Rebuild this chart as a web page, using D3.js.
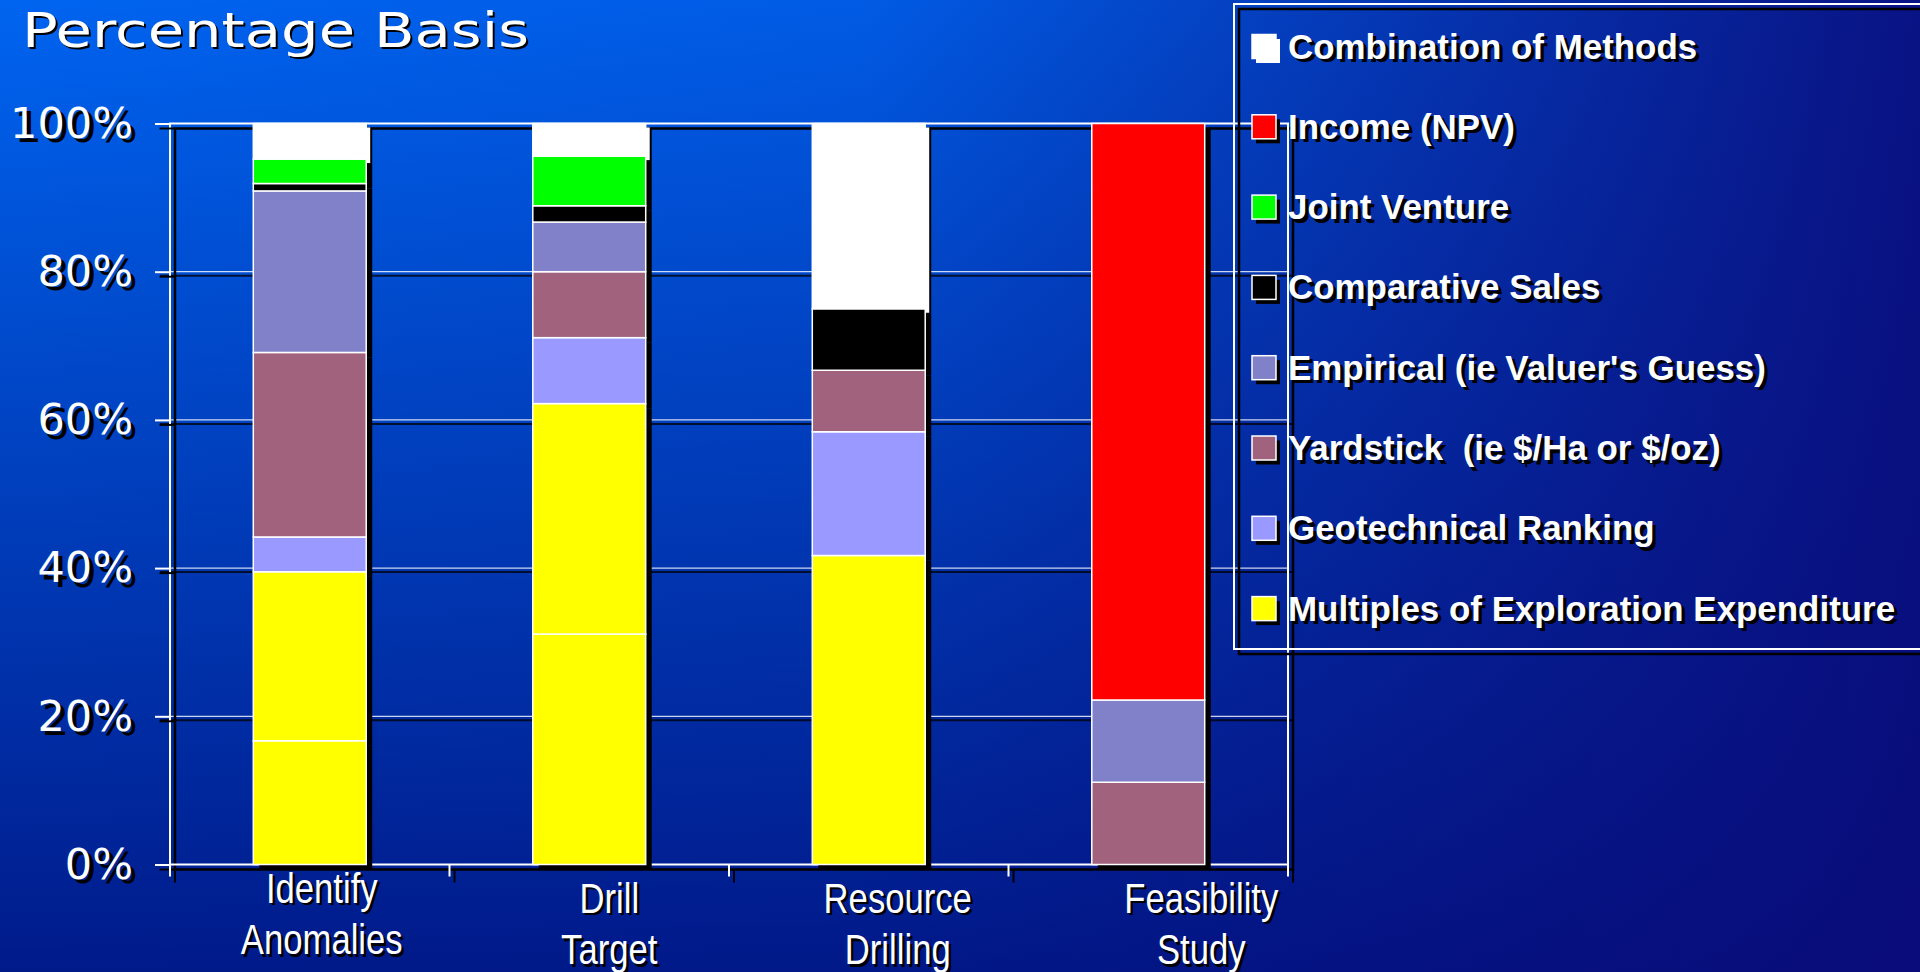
<!DOCTYPE html>
<html>
<head>
<meta charset="utf-8">
<script src="https://cdn.jsdelivr.net/npm/d3@7"></script>
<style>
  html, body { margin: 0; padding: 0; overflow: hidden; background: #0040c0; }
  svg { display: block; }
</style>
</head>
<body>
<svg id="chart" width="1920" height="972"></svg>
<script>
// ---- data -------------------------------------------------------------
const categories = ["Identify Anomalies", "Drill Target", "Resource Drilling", "Feasibility Study"];
const yTicks = [0, 20, 40, 60, 80, 100];

// share of valuations (%) per exploration stage, stacked bottom to top
const multiplesLower   = [16.7, 31.1, 41.7, 0];
const multiplesUpper   = [22.8, 31.1, 0, 0];
const geotechnical     = [4.7, 8.9, 16.7, 0];
const yardstick        = [24.9, 8.9, 8.3, 11.1];
const empirical        = [21.8, 6.7, 0, 11.1];
const comparativeSales = [1.0, 2.2, 8.3, 0];
const jointVenture     = [3.3, 6.7, 0, 0];
const income           = [0, 0, 0, 77.8];
const combination      = [4.8, 4.4, 25.0, 0];

const seriesKeys   = ["multiplesLower", "multiplesUpper", "geotechnical", "yardstick", "empirical",
                      "comparativeSales", "jointVenture", "income", "combination"];
const seriesValues = [multiplesLower, multiplesUpper, geotechnical, yardstick, empirical,
                      comparativeSales, jointVenture, income, combination];
const seriesColors = ["#FFFF00", "#FFFF00", "#9999FF", "#A0627D", "#8181C9",
                      "#000000", "#00FF00", "#FF0000", "#FFFFFF"];

// legend, top to bottom
const legendLabels = ["Combination of Methods", "Income (NPV)", "Joint Venture", "Comparative Sales",
                      "Empirical (ie Valuer's Guess)", "Yardstick  (ie $/Ha or $/oz)",
                      "Geotechnical Ranking", "Multiples of Exploration Expenditure"];
const legendColors = ["#FFFFFF", "#FF0000", "#00FF00", "#000000", "#8181C9", "#A0627D", "#9999FF", "#FFFF00"];

// ---- layout -----------------------------------------------------------
const W = 1920, H = 972;
const plot = { left: 170, right: 1288, top: 123.5, bottom: 864.5 };
const labelNudgeX = [12, 20, 29, 53];
const labelNudgeY = [-10, 0, 0, 0];

const svg = d3.select("#chart");
const defs = svg.append("defs");

const gv = defs.append("linearGradient").attr("id", "bgV").attr("x1", 0).attr("y1", 0).attr("x2", 0).attr("y2", 1);
gv.append("stop").attr("offset", "0%").attr("stop-color", "#0064F0");
gv.append("stop").attr("offset", "100%").attr("stop-color", "#001A8A");

const gh = defs.append("linearGradient").attr("id", "bgH").attr("x1", 0).attr("y1", 0).attr("x2", 1).attr("y2", 0);
gh.append("stop").attr("offset", "0%").attr("stop-color", "#0A0A78").attr("stop-opacity", 0);
gh.append("stop").attr("offset", "45%").attr("stop-color", "#0A0A78").attr("stop-opacity", 0.1);
gh.append("stop").attr("offset", "100%").attr("stop-color", "#0A0A78").attr("stop-opacity", 0.9);

svg.append("rect").attr("width", W).attr("height", H).attr("fill", "url(#bgV)");
svg.append("rect").attr("width", W).attr("height", H).attr("fill", "url(#bgH)");

// white lettering with a hard black copy offset behind it
function shadowText(g, txt, tx, ty, off, attrs, sx) {
  const mk = (fill, o) => {
    const t = g.append("text")
      .attr("transform", `translate(${tx + o},${ty + o})` + (sx ? ` scale(${sx},1)` : ""))
      .attr("fill", fill);
    Object.entries(attrs).forEach(([k, v]) => t.attr(k, v));
    return t;
  };
  return [mk("#000000", off), mk("#FFFFFF", 0)];
}

// ---- title ------------------------------------------------------------
shadowText(svg.append("g"), null, 22, 46.5, 2, {
  "font-family": "DejaVu Sans, Verdana, sans-serif", "font-size": 48,
  "textLength": 507, "lengthAdjust": "spacingAndGlyphs"
}).forEach(t => t.text("Percentage Basis"));

// ---- scales -----------------------------------------------------------
const x = d3.scaleBand().domain(categories).range([plot.left, plot.right])
  .paddingInner(0.596).paddingOuter(0.298);
const y = d3.scaleLinear().domain([0, 100]).range([plot.bottom, plot.top]);

// ---- gridlines --------------------------------------------------------
const grid = svg.append("g");
yTicks.filter(t => t > 0 && t < 100).forEach(t => {
  grid.append("line").attr("x1", plot.left - 10).attr("x2", plot.right + 5)
    .attr("y1", y(t) + 4).attr("y2", y(t) + 4)
    .attr("stroke", "#000000").attr("stroke-opacity", 0.75).attr("stroke-width", 2);
  grid.append("line").attr("x1", plot.left).attr("x2", plot.right)
    .attr("y1", y(t)).attr("y2", y(t))
    .attr("stroke", "#FFFFFF").attr("stroke-opacity", 0.8).attr("stroke-width", 1.2);
});

// ---- plot frame -------------------------------------------------------
svg.append("rect").attr("x", plot.left + 5).attr("y", plot.top + 5)
  .attr("width", plot.right - plot.left).attr("height", plot.bottom - plot.top)
  .attr("fill", "none").attr("stroke", "#000000").attr("stroke-width", 2.5);
svg.append("rect").attr("x", plot.left).attr("y", plot.top)
  .attr("width", plot.right - plot.left).attr("height", plot.bottom - plot.top)
  .attr("fill", "none").attr("stroke", "#FFFFFF").attr("stroke-width", 2);

// ---- y axis (drawn twice: dark drop shadow, then white) ---------------
function yAxis(g, color) {
  g.call(d3.axisLeft(y).tickValues(yTicks).tickSize(15).tickPadding(22).tickFormat(d => d + "%"));
  g.select(".domain").remove();
  g.selectAll(".tick line").attr("stroke", color).attr("stroke-width", 2);
  g.selectAll(".tick text").attr("fill", color)
    .attr("font-family", "DejaVu Sans, Verdana, sans-serif").attr("font-size", 43);
}
svg.append("g").attr("transform", `translate(${plot.left + 4.5},4.5)`).call(yAxis, "#000000");
svg.append("g").attr("transform", `translate(${plot.left},0)`).call(yAxis, "#FFFFFF");

// ---- x axis ticks at band boundaries ----------------------------------
const boundaries = d3.range(categories.length + 1).map(i => plot.left + i * x.step());
const xt = svg.append("g");
boundaries.forEach(bx => {
  xt.append("line").attr("x1", bx + 5).attr("x2", bx + 5).attr("y1", plot.bottom + 5).attr("y2", plot.bottom + 18)
    .attr("stroke", "#000000").attr("stroke-width", 2);
  xt.append("line").attr("x1", bx).attr("x2", bx).attr("y1", plot.bottom).attr("y2", plot.bottom + 12)
    .attr("stroke", "#FFFFFF").attr("stroke-width", 2);
});

// ---- stacked bars -----------------------------------------------------
const table = categories.map((c, i) => {
  const row = { category: c };
  seriesKeys.forEach((k, j) => { row[k] = seriesValues[j][i]; });
  return row;
});
const stacked = d3.stack().keys(seriesKeys)(table);
const colorOf = d3.scaleOrdinal().domain(seriesKeys).range(seriesColors);

const segs = [];
stacked.forEach(layer => {
  layer.forEach(d => {
    if (d[1] - d[0] > 0) segs.push({ key: layer.key, cat: d.data.category, y0: d[0], y1: d[1] });
  });
});

const bars = svg.append("g");
// dark shadows
bars.selectAll("rect.sh").data(segs).join("rect").attr("class", "sh")
  .attr("x", d => x(d.cat) + 6).attr("y", d => y(d.y1) + 5)
  .attr("width", x.bandwidth()).attr("height", d => y(d.y0) - y(d.y1))
  .attr("fill", "#000000");
// the white series casts a white shadow
bars.selectAll("rect.shw").data(segs.filter(d => colorOf(d.key) === "#FFFFFF")).join("rect").attr("class", "shw")
  .attr("x", d => x(d.cat) + 4).attr("y", d => y(d.y1) + 4)
  .attr("width", x.bandwidth()).attr("height", d => y(d.y0) - y(d.y1))
  .attr("fill", "#FFFFFF");
bars.selectAll("rect.seg").data(segs).join("rect").attr("class", "seg")
  .attr("x", d => x(d.cat)).attr("y", d => y(d.y1))
  .attr("width", x.bandwidth()).attr("height", d => y(d.y0) - y(d.y1))
  .attr("fill", d => colorOf(d.key))
  .attr("stroke", "#FFFFFF").attr("stroke-width", 1.5);

// ---- category labels --------------------------------------------------
const catG = svg.append("g");
categories.forEach((c, i) => {
  const cx = x(c) + x.bandwidth() / 2 + labelNudgeX[i];
  c.split(" ").forEach((ln, k) => {
    const by = 912.7 + labelNudgeY[i] + k * 51.5;
    shadowText(catG, null, cx, by, 2.5, {
      "text-anchor": "middle",
      "font-family": "Liberation Sans, Arial, sans-serif", "font-size": 42
    }, 0.825).forEach(t => t.text(ln));
  });
});

// ---- legend -----------------------------------------------------------
const lg = svg.append("g");
const box = { x: 1234, y: 4, w: 720, h: 645 };
lg.append("rect").attr("x", box.x + 5).attr("y", box.y + 5).attr("width", box.w).attr("height", box.h)
  .attr("fill", "none").attr("stroke", "#000000").attr("stroke-width", 2.5);
lg.append("rect").attr("x", box.x).attr("y", box.y).attr("width", box.w).attr("height", box.h)
  .attr("fill", "none").attr("stroke", "#FFFFFF").attr("stroke-width", 2);

legendLabels.forEach((lab, i) => {
  const cy = 46.5 + i * 80.3;
  const col = legendColors[i];
  lg.append("rect").attr("x", 1256).attr("y", cy - 7.5).attr("width", 24).attr("height", 24)
    .attr("fill", col === "#FFFFFF" ? "#FFFFFF" : "#000000");
  lg.append("rect").attr("x", 1252).attr("y", cy - 12).attr("width", 24).attr("height", 24)
    .attr("fill", col).attr("stroke", "#FFFFFF").attr("stroke-width", 1.5);
  shadowText(lg, null, 1288, cy + 12, 3.5, {
    "font-family": "Liberation Sans, Arial, sans-serif", "font-size": 36, "font-weight": "bold"
  }, 0.97).forEach(t => t.style("white-space", "pre").text(lab));
});
</script>
</body>
</html>
